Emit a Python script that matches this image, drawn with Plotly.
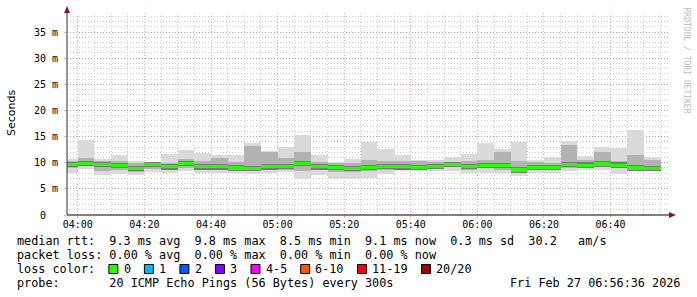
import plotly.graph_objects as go
import pandas as pd

DAY = "2026-02-27"

# 5-minute RRD steps (start of each step)
slot_start = ["03:55", "04:00", "04:05", "04:10", "04:15", "04:20", "04:25", "04:30",
              "04:35", "04:40", "04:45", "04:50", "04:55", "05:00", "05:05", "05:10",
              "05:15", "05:20", "05:25", "05:30", "05:35", "05:40", "05:45", "05:50",
              "05:55", "06:00", "06:05", "06:10", "06:15", "06:20", "06:25", "06:30",
              "06:35", "06:40", "06:45", "06:50"]

# ping round-trip distribution per step, in ms
ping_max = [10.8, 14.3, 10.8, 11.4, 10.4, 10.0, 11.6, 12.4, 11.8, 11.4, 11.5, 13.8,
            12.2, 13.0, 15.25, 11.4, 10.1, 10.8, 14.0, 12.55, 11.4, 10.6, 10.6, 11.1,
            11.6, 13.7, 12.55, 14.0, 10.6, 11.15, 14.1, 11.3, 13.0, 12.75, 16.2, 11.1]
ping_hi = [10.3, 10.9, 10.4, 10.3, 9.9, 9.8, 9.9, 10.8, 10.3, 10.9, 10.2, 13.2,
           12.0, 11.0, 12.0, 10.2, 9.9, 9.9, 10.5, 10.3, 10.3, 10.4, 10.1, 10.2,
           10.3, 10.5, 12.0, 10.3, 10.1, 10.0, 13.4, 10.6, 12.0, 10.3, 11.5, 10.5]
median_rtt = [9.6, 9.8, 9.7, 9.5, 8.9, 9.6, 9.2, 9.9, 9.2, 9.2, 9.0, 8.85,
              9.2, 9.35, 9.9, 9.2, 9.15, 8.85, 9.15, 9.35, 9.2, 9.15, 9.35, 9.6,
              9.35, 9.5, 9.5, 8.6, 9.15, 9.15, 9.7, 9.55, 9.75, 9.55, 9.0, 8.85]
ping_lo = [9.0, 9.3, 8.4, 8.7, 8.3, 8.8, 8.7, 9.0, 8.7, 8.6, 8.6, 8.4,
           8.6, 8.7, 8.5, 8.7, 8.2, 8.2, 8.4, 8.7, 8.8, 8.8, 9.0, 9.1,
           8.7, 8.9, 8.6, 8.0, 8.6, 8.7, 9.0, 9.1, 9.1, 9.0, 8.6, 8.6]
ping_min = [8.1, 8.8, 7.75, 7.9, 7.75, 8.2, 8.1, 8.4, 8.1, 8.1, 8.1, 7.9,
            8.1, 8.3, 6.8, 7.75, 6.8, 6.9, 7.0, 7.9, 8.4, 8.4, 8.4, 8.4,
            7.95, 8.1, 7.95, 7.55, 8.1, 8.1, 8.4, 8.6, 8.7, 7.9, 8.4, 8.4]

y_tick_vals = [0, 5, 10, 15, 20, 25, 30, 35]
y_tick_text = ["0\u00a0\u00a0", "5\u00a0m", "10\u00a0m", "15\u00a0m", "20\u00a0m",
               "25\u00a0m", "30\u00a0m", "35\u00a0m"]

loss_labels = ["0", "1", "2", "3", "4-5", "6-10", "11-19", "20/20"]
loss_colors = ["#26ff00", "#00b8ff", "#0059ff", "#7e00ff", "#ff00ff", "#ff5500",
               "#ff0000", "#a00000"]

legend_rows = [
    "median rtt:  9.3 ms avg  9.8 ms max  8.5 ms min  9.1 ms now  0.3 ms sd  30.2   am/s",
    "packet loss: 0.00 % avg  0.00 % max  0.00 % min  0.00 % now",
    "loss color:",
    "probe:       20 ICMP Echo Pings (56 Bytes) every 300s",
]
stamp = "Fri Feb 27 06:56:36 2026"

# ---------------- layout geometry (pixels) ----------------
FW, FH = 697, 297
L, R, T, B = 67, 668, 13, 215
W, H = R - L, B - T


def px(x):
    return (x - L) / W


def py(y):
    return (B - y) / H


MONO = "DejaVu Sans Mono"
LEG_SIZE = 11.8
CW = LEG_SIZE * 0.6021
STEP_MS = 300000

starts = pd.to_datetime([f"{DAY} {t}" for t in slot_start])
centers = starts + pd.Timedelta(seconds=150)

fig = go.Figure()


def band(lo, hi, color):
    fig.add_trace(go.Bar(
        x=centers, base=lo, y=[h - l for h, l in zip(hi, lo)], width=STEP_MS,
        marker=dict(color=color, line=dict(width=0)),
        hoverinfo="skip", showlegend=False))


band(ping_min, ping_max, "#dadada")
band(ping_lo, ping_hi, "#b2b2b2")
band([m - 0.5 for m in median_rtt], [m + 0.5 for m in median_rtt], "#7a7a7a")
band([m - 0.3 for m in median_rtt], [m + 0.3 for m in median_rtt], loss_colors[0])

MAJ = "rgba(225,95,95,0.55)"
MIN = "#cccccc"
DASH = "1px,2px"

fig.update_layout(
    width=FW, height=FH,
    margin=dict(l=L, r=FW - R, t=T, b=FH - B, pad=0),
    paper_bgcolor="white", plot_bgcolor="white",
    barmode="overlay", bargap=0,
    showlegend=False,
    xaxis=dict(
        type="date",
        range=[f"{DAY} 03:56:45", f"{DAY} 06:57:15"],
        tick0=f"{DAY} 04:00", dtick=1200000, tickformat="%H:%M",
        showgrid=True, gridcolor=MAJ, griddash=DASH, gridwidth=1,
        minor=dict(tick0=f"{DAY} 04:00", dtick=STEP_MS, showgrid=True,
                   gridcolor=MIN, griddash=DASH, gridwidth=1),
        zeroline=False, showline=False,
        ticks="outside", ticklen=2, tickcolor=MAJ,
        ticklabelstandoff=-2,
        tickfont=dict(family=MONO, size=10, color="black"),
        fixedrange=True,
    ),
    yaxis=dict(
        range=[0, 38.65],
        tickvals=y_tick_vals, ticktext=y_tick_text,
        showgrid=True, gridcolor=MAJ, griddash=DASH, gridwidth=1,
        minor=dict(dtick=1, showgrid=True, gridcolor=MIN, griddash=DASH, gridwidth=1),
        zeroline=False, showline=False,
        ticks="outside", ticklen=2, tickcolor=MAJ,
        ticklabelstandoff=4,
        tickfont=dict(family=MONO, size=10, color="black"),
        fixedrange=True,
    ),
)

shapes = []
# axis lines
shapes.append(dict(type="line", xref="paper", yref="paper", x0=0, x1=0, y0=0, y1=py(9),
                   line=dict(color="#303030", width=1)))
shapes.append(dict(type="line", xref="paper", yref="paper", x0=0, x1=px(670), y0=0, y1=0,
                   line=dict(color="black", width=1)))
# arrows
shapes.append(dict(type="path", xref="paper", yref="paper",
                   path=f"M {px(64)} {py(13)} L {px(70)} {py(13)} L {px(67)} {py(6)} Z",
                   fillcolor="#8b1a1a", line=dict(width=0)))
shapes.append(dict(type="path", xref="paper", yref="paper",
                   path=f"M {px(669)} {py(212)} L {px(669)} {py(218)} L {px(676)} {py(215)} Z",
                   fillcolor="#8b1a1a", line=dict(width=0)))

annotations = []
row_y = [241, 255, 269, 283]
for text, yy in zip(legend_rows, row_y):
    annotations.append(dict(xref="paper", yref="paper", x=px(16), y=py(yy),
                            xanchor="left", yanchor="middle", showarrow=False, borderpad=0,
                            text=text.replace(" ", "\u00a0"),
                            font=dict(family=MONO, size=LEG_SIZE, color="black")))
annotations.append(dict(xref="paper", yref="paper", x=px(681), y=py(283),
                        xanchor="right", yanchor="middle", showarrow=False, borderpad=0,
                        text=stamp.replace(" ", "\u00a0"),
                        font=dict(family=MONO, size=LEG_SIZE, color="black")))

# loss colour boxes
col = 13
for lab, colr in zip(loss_labels, loss_colors):
    bx = 16 + col * CW
    shapes.append(dict(type="rect", xref="paper", yref="paper",
                       x0=px(bx + 0.5), x1=px(bx + 9.5), y0=py(264.5), y1=py(273.5),
                       fillcolor=colr, line=dict(color="black", width=1)))
    annotations.append(dict(xref="paper", yref="paper", x=px(16 + (col + 2) * CW), y=py(269),
                            xanchor="left", yanchor="middle", showarrow=False, borderpad=0,
                            text=lab, font=dict(family=MONO, size=LEG_SIZE, color="black")))
    col += 2 + len(lab) + 2

# y axis title
annotations.append(dict(xref="paper", yref="paper", x=px(11), y=py(113),
                        xanchor="center", yanchor="middle", showarrow=False, textangle=-90,
                        text="Seconds", font=dict(family="DejaVu Sans", size=11, color="black")))
# watermark
annotations.append(dict(xref="paper", yref="paper", x=px(686.5), y=py(60),
                        xanchor="center", yanchor="middle", showarrow=False, textangle=90,
                        text="RRDTOOL / TOBI OETIKER".replace(" ", "\u00a0"),
                        font=dict(family=MONO, size=8, color="#bdbdbd")))

fig.update_layout(shapes=shapes, annotations=annotations)
fig.write_html("out.html")
